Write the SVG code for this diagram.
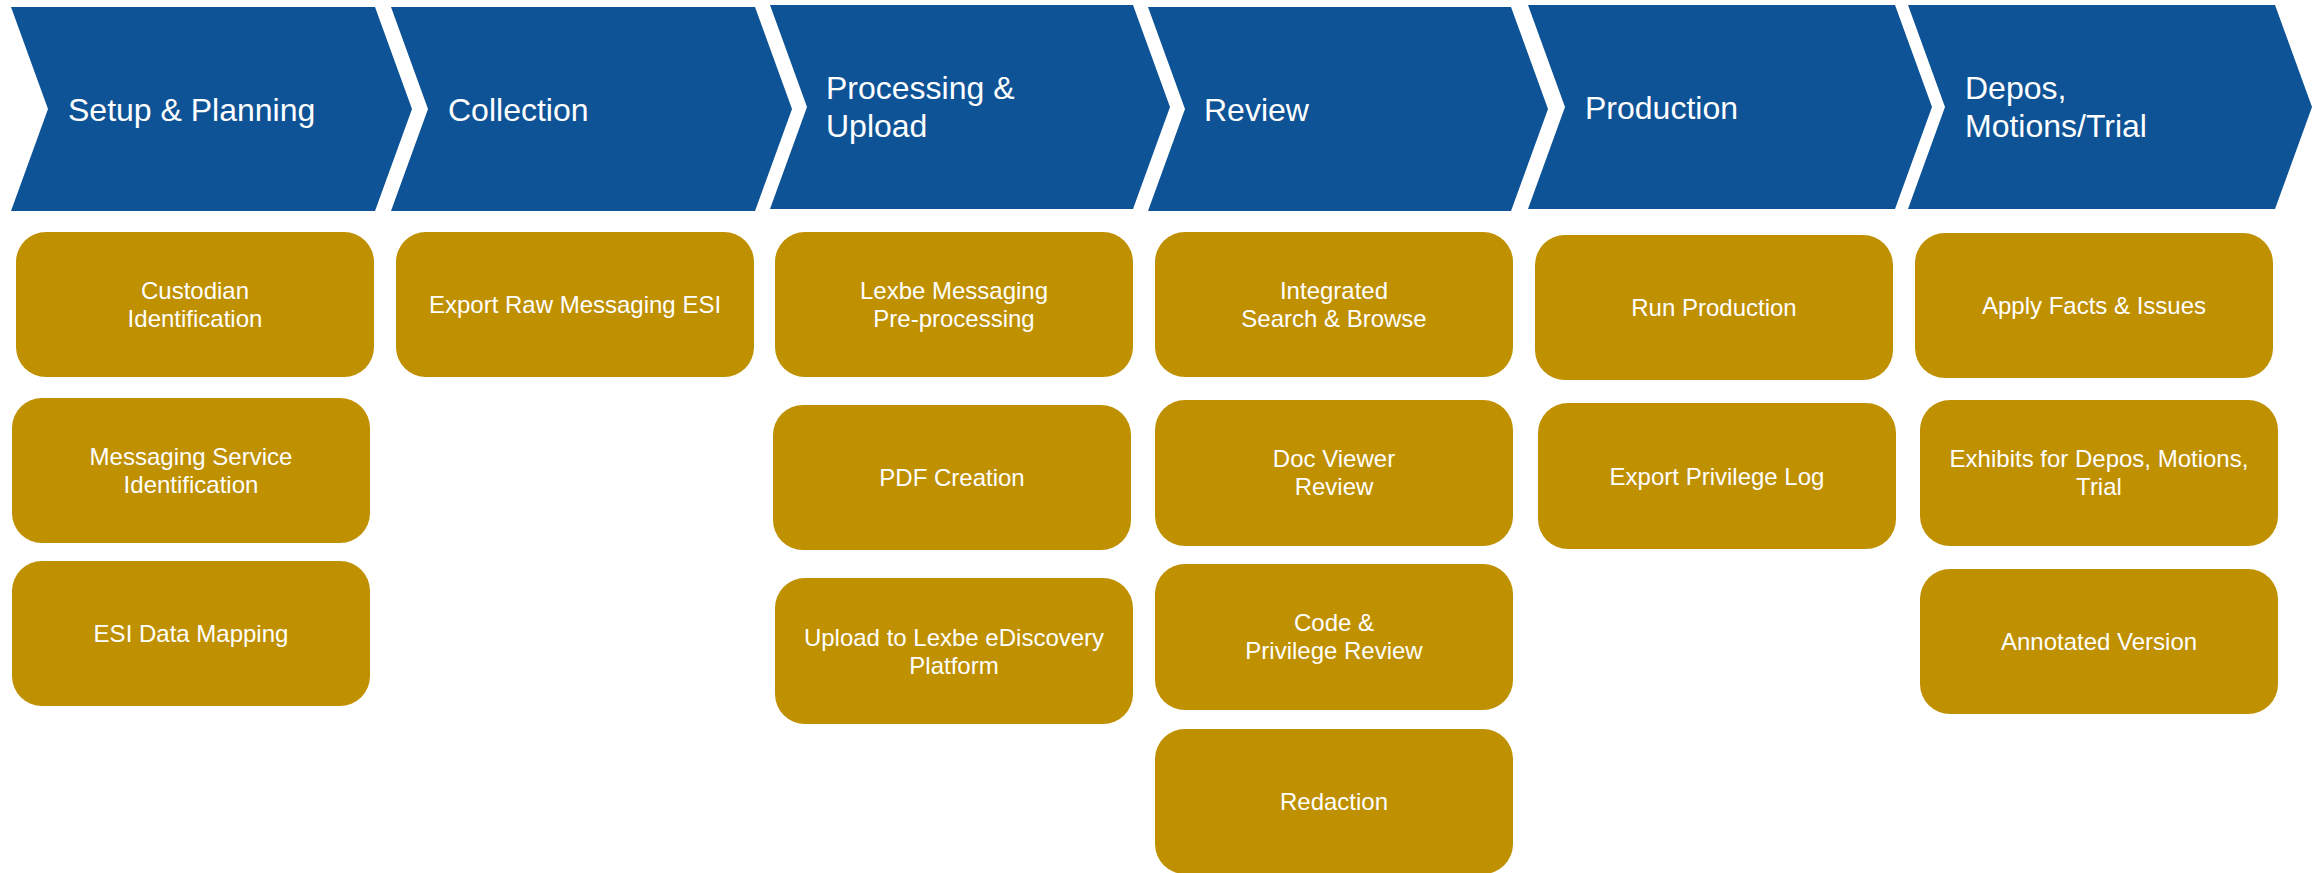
<svg xmlns="http://www.w3.org/2000/svg" width="2313" height="873" viewBox="0 0 2313 873">
<style>
.chev{fill:#0E5396}
.box{fill:#BF9000}
.ht{font-family:"Liberation Sans",Arial,sans-serif;font-size:32px;fill:#FFFFFF}
.bt{font-family:"Liberation Sans",Arial,sans-serif;font-size:24px;fill:#FFFFFF;text-anchor:middle}
</style>
<rect width="2313" height="873" fill="#FFFFFF"/>
<g id="connectors"/>
<g id="stage-setup">
<polygon class="chev" points="11,7 375,7 412,109 375,211 11,211 48,109"/>
<text class="ht" x="68" y="121">Setup &amp; Planning</text>
</g>
<g id="stage-collection">
<polygon class="chev" points="391,7 755,7 792,109 755,211 391,211 428,109"/>
<text class="ht" x="448" y="121">Collection</text>
</g>
<g id="stage-processing">
<polygon class="chev" points="770,5 1133,5 1170,107 1133,209 770,209 807,107"/>
<text class="ht" x="826" y="99">Processing &amp;</text>
<text class="ht" x="826" y="137">Upload</text>
</g>
<g id="stage-review">
<polygon class="chev" points="1148,7 1511,7 1548,109 1511,211 1148,211 1185,109"/>
<text class="ht" x="1204" y="121">Review</text>
</g>
<g id="stage-production">
<polygon class="chev" points="1528,5 1895,5 1932,107 1895,209 1528,209 1565,107"/>
<text class="ht" x="1585" y="119">Production</text>
</g>
<g id="stage-depos">
<polygon class="chev" points="1908,5 2275,5 2312,107 2275,209 1908,209 1945,107"/>
<text class="ht" x="1965" y="99">Depos,</text>
<text class="ht" x="1965" y="137">Motions/Trial</text>
</g>

<g id="custodian">
<rect class="box" x="16" y="232" width="358" height="145" rx="30"/>
<text class="bt" x="195" y="299">Custodian</text>
<text class="bt" x="195" y="327">Identification</text>
</g>
<g id="messaging-service">
<rect class="box" x="12" y="398" width="358" height="145" rx="30"/>
<text class="bt" x="191" y="465">Messaging Service</text>
<text class="bt" x="191" y="493">Identification</text>
</g>
<g id="esi-mapping">
<rect class="box" x="12" y="561" width="358" height="145" rx="30"/>
<text class="bt" x="191" y="642">ESI Data Mapping</text>
</g>
<g id="export-raw">
<rect class="box" x="396" y="232" width="358" height="145" rx="30"/>
<text class="bt" x="575" y="313">Export Raw Messaging ESI</text>
</g>
<g id="lexbe-preprocessing">
<rect class="box" x="775" y="232" width="358" height="145" rx="30"/>
<text class="bt" x="954" y="299">Lexbe Messaging</text>
<text class="bt" x="954" y="327">Pre-processing</text>
</g>
<g id="pdf-creation">
<rect class="box" x="773" y="405" width="358" height="145" rx="30"/>
<text class="bt" x="952" y="486">PDF Creation</text>
</g>
<g id="upload">
<rect class="box" x="775" y="578" width="358" height="146" rx="30"/>
<text class="bt" x="954" y="646">Upload to Lexbe eDiscovery</text>
<text class="bt" x="954" y="674">Platform</text>
</g>
<g id="search-browse">
<rect class="box" x="1155" y="232" width="358" height="145" rx="30"/>
<text class="bt" x="1334" y="299">Integrated</text>
<text class="bt" x="1334" y="327">Search &amp; Browse</text>
</g>
<g id="doc-viewer">
<rect class="box" x="1155" y="400" width="358" height="146" rx="30"/>
<text class="bt" x="1334" y="467">Doc Viewer</text>
<text class="bt" x="1334" y="495">Review</text>
</g>
<g id="code-privilege">
<rect class="box" x="1155" y="564" width="358" height="146" rx="30"/>
<text class="bt" x="1334" y="631">Code &amp;</text>
<text class="bt" x="1334" y="659">Privilege Review</text>
</g>
<g id="redaction">
<rect class="box" x="1155" y="729" width="358" height="145" rx="30"/>
<text class="bt" x="1334" y="810">Redaction</text>
</g>
<g id="run-production">
<rect class="box" x="1535" y="235" width="358" height="145" rx="30"/>
<text class="bt" x="1714" y="316">Run Production</text>
</g>
<g id="privilege-log">
<rect class="box" x="1538" y="403" width="358" height="146" rx="30"/>
<text class="bt" x="1717" y="485">Export Privilege Log</text>
</g>
<g id="facts-issues">
<rect class="box" x="1915" y="233" width="358" height="145" rx="30"/>
<text class="bt" x="2094" y="314">Apply Facts &amp; Issues</text>
</g>
<g id="exhibits">
<rect class="box" x="1920" y="400" width="358" height="146" rx="30"/>
<text class="bt" x="2099" y="467">Exhibits for Depos, Motions,</text>
<text class="bt" x="2099" y="495">Trial</text>
</g>
<g id="annotated">
<rect class="box" x="1920" y="569" width="358" height="145" rx="30"/>
<text class="bt" x="2099" y="650">Annotated Version</text>
</g>
</svg>
